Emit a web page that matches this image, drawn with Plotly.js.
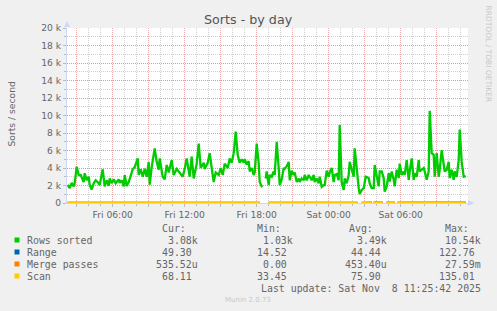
<!DOCTYPE html>
<html>
<head>
<meta charset="utf-8">
<script src="https://cdn.plot.ly/plotly-3.0.1.min.js"></script>
<style>
html,body{margin:0;padding:0;background:#F0F0F0;}
#chart{width:497px;height:311px;}
</style>
</head>
<body>
<div id="chart"></div>
<script>
// ---- Data ----
const rowsTimes = [
'2025-11-07 02:15','2025-11-07 02:25','2025-11-07 02:35','2025-11-07 02:45','2025-11-07 02:50','2025-11-07 03:00','2025-11-07 03:10','2025-11-07 03:20','2025-11-07 03:35','2025-11-07 03:40',
'2025-11-07 03:50','2025-11-07 04:00','2025-11-07 04:05','2025-11-07 04:15','2025-11-07 04:25','2025-11-07 04:35','2025-11-07 04:50','2025-11-07 04:55','2025-11-07 05:10','2025-11-07 05:20',
'2025-11-07 05:30','2025-11-07 05:40','2025-11-07 05:45','2025-11-07 05:55','2025-11-07 06:05','2025-11-07 06:15','2025-11-07 06:30','2025-11-07 06:35','2025-11-07 06:45','2025-11-07 06:55',
'2025-11-07 07:00','2025-11-07 07:10','2025-11-07 07:20','2025-11-07 07:30','2025-11-07 07:40','2025-11-07 07:50','2025-11-07 08:05','2025-11-07 08:10','2025-11-07 08:20','2025-11-07 08:30',
'2025-11-07 08:40','2025-11-07 08:50','2025-11-07 09:00','2025-11-07 09:05','2025-11-07 09:15','2025-11-07 09:30','2025-11-07 09:40','2025-11-07 09:50','2025-11-07 09:55','2025-11-07 10:10',
'2025-11-07 10:20','2025-11-07 10:30','2025-11-07 10:40','2025-11-07 10:55','2025-11-07 11:05','2025-11-07 11:20','2025-11-07 11:35','2025-11-07 11:50','2025-11-07 12:00','2025-11-07 12:10',
'2025-11-07 12:25','2025-11-07 12:35','2025-11-07 12:45','2025-11-07 13:00','2025-11-07 13:10','2025-11-07 13:20','2025-11-07 13:35','2025-11-07 13:40','2025-11-07 13:55','2025-11-07 14:05',
'2025-11-07 14:15','2025-11-07 14:25','2025-11-07 14:35','2025-11-07 14:50','2025-11-07 15:00','2025-11-07 15:10','2025-11-07 15:20','2025-11-07 15:35','2025-11-07 15:45','2025-11-07 15:55',
'2025-11-07 16:05','2025-11-07 16:10','2025-11-07 16:15','2025-11-07 16:25','2025-11-07 16:35','2025-11-07 16:45','2025-11-07 16:55','2025-11-07 17:00','2025-11-07 17:10','2025-11-07 17:20',
'2025-11-07 17:25','2025-11-07 17:35','2025-11-07 17:45','2025-11-07 17:50','2025-11-07 18:00','2025-11-07 18:10','2025-11-07 18:15','2025-11-07 18:25','2025-11-07 18:30','2025-11-07 18:35',
'2025-11-07 18:45','2025-11-07 18:50','2025-11-07 19:00','2025-11-07 19:05','2025-11-07 19:15','2025-11-07 19:25','2025-11-07 19:30','2025-11-07 19:40','2025-11-07 19:50','2025-11-07 19:55',
'2025-11-07 20:05','2025-11-07 20:15','2025-11-07 20:20','2025-11-07 20:30','2025-11-07 20:40','2025-11-07 20:45','2025-11-07 20:55','2025-11-07 21:05','2025-11-07 21:10','2025-11-07 21:20',
'2025-11-07 21:30','2025-11-07 21:35','2025-11-07 21:45','2025-11-07 21:55','2025-11-07 22:00','2025-11-07 22:10','2025-11-07 22:20','2025-11-07 22:25','2025-11-07 22:35','2025-11-07 22:45',
'2025-11-07 22:50','2025-11-07 23:00','2025-11-07 23:10','2025-11-07 23:15','2025-11-07 23:25','2025-11-07 23:35','2025-11-07 23:40','2025-11-07 23:50',
'2025-11-08 00:00','2025-11-08 00:05','2025-11-08 00:15','2025-11-08 00:25','2025-11-08 00:30','2025-11-08 00:40','2025-11-08 00:50','2025-11-08 00:55','2025-11-08 01:05','2025-11-08 01:15',
'2025-11-08 01:20','2025-11-08 01:30','2025-11-08 01:40','2025-11-08 01:45','2025-11-08 01:55','2025-11-08 02:05','2025-11-08 02:10','2025-11-08 02:20','2025-11-08 02:30','2025-11-08 02:35',
'2025-11-08 02:45','2025-11-08 02:55','2025-11-08 03:05','2025-11-08 03:20','2025-11-08 03:25','2025-11-08 03:35','2025-11-08 03:45','2025-11-08 03:50','2025-11-08 04:00','2025-11-08 04:10',
'2025-11-08 04:15','2025-11-08 04:25','2025-11-08 04:35','2025-11-08 04:40','2025-11-08 04:50','2025-11-08 05:00','2025-11-08 05:05','2025-11-08 05:15','2025-11-08 05:25','2025-11-08 05:30',
'2025-11-08 05:40','2025-11-08 05:50','2025-11-08 05:55','2025-11-08 06:05','2025-11-08 06:15','2025-11-08 06:20','2025-11-08 06:30','2025-11-08 06:40','2025-11-08 06:45','2025-11-08 06:55',
'2025-11-08 07:05','2025-11-08 07:10','2025-11-08 07:20','2025-11-08 07:30','2025-11-08 07:35','2025-11-08 07:45','2025-11-08 07:55','2025-11-08 08:00','2025-11-08 08:10','2025-11-08 08:20',
'2025-11-08 08:25','2025-11-08 08:35','2025-11-08 08:45','2025-11-08 08:50','2025-11-08 09:00','2025-11-08 09:10','2025-11-08 09:15','2025-11-08 09:25','2025-11-08 09:35','2025-11-08 09:40',
'2025-11-08 09:50','2025-11-08 10:00','2025-11-08 10:05','2025-11-08 10:15','2025-11-08 10:25','2025-11-08 10:30','2025-11-08 10:40','2025-11-08 10:50','2025-11-08 10:55','2025-11-08 11:05',
'2025-11-08 11:15','2025-11-08 11:20','2025-11-08 11:25'
];
const rowsSorted = [
2060,1700,2300,1900,2250,4150,3200,3200,2400,3400,
2600,3000,2050,1550,2250,2600,2250,2050,3850,1900,
2600,1950,2800,2250,2700,2250,2700,2300,2600,1900,
3200,1950,2400,3200,3850,4100,5100,3200,3850,3000,
3900,3000,4700,2100,4100,6250,4700,3800,5100,3000,
2700,4350,3500,4900,3200,3900,3500,3000,3900,5100,
3000,5300,2800,4500,6800,4000,4600,3900,4600,5700,
4000,2400,3500,3200,4000,3200,4500,4000,5100,4600,
5700,6600,8150,5500,4600,5000,4600,5000,4400,4800,
3600,4000,3200,3500,6800,4500,2400,1900,1850,null,
2800,3600,2050,3200,3000,3600,3200,7000,4000,2050,
2700,4000,3900,4200,4700,2600,3700,3200,3500,2400,
2800,2400,2800,2600,3200,2600,3200,3000,2600,3200,
2400,2800,2250,3000,1850,2050,2050,3700,
3000,3500,4000,2400,3200,3300,2600,8900,2400,1500,
2800,2250,3200,4700,3700,3000,6250,3500,1700,1030,
1500,1700,3000,2850,2250,1700,1700,4350,3000,1900,
3600,3600,2850,1300,1900,3400,2450,3600,2650,1900,
3800,2850,4500,3200,3600,3200,4900,2650,3600,5100,
2650,3400,3000,4900,3600,3800,4000,3600,2650,3600,
10540,5700,5500,3000,5700,3000,3800,6050,4500,3600,
3800,4700,2850,3800,2650,3600,3000,4900,8400,4700,
3000,3080,3080
];
const auxTimes = ['2025-11-07 02:15','2025-11-07 05:00','2025-11-07 08:00','2025-11-07 11:00','2025-11-07 14:00','2025-11-07 17:00','2025-11-07 18:15','2025-11-07 18:30','2025-11-07 19:00','2025-11-07 21:00',
'2025-11-08 00:00','2025-11-08 02:25','2025-11-08 02:35','2025-11-08 02:45','2025-11-08 03:35','2025-11-08 03:40','2025-11-08 03:45','2025-11-08 04:30','2025-11-08 04:40','2025-11-08 04:50',
'2025-11-08 05:30','2025-11-08 05:35','2025-11-08 05:45','2025-11-08 08:00','2025-11-08 10:00','2025-11-08 11:25'];
const rangeVals = [40,35,45,50,55,48,42,null,30,38,35,40,null,42,45,null,44,50,null,48,46,null,47,52,50,49.3];
const mergeVals = [0,0,0,0,0,0,0,null,0,0,0,0,null,0,0,null,0,0,null,0,0,null,0,0,0,0.00053552];
const scanVals  = [72,80,76,85,90,82,70,null,65,60,58,62,null,60,64,null,66,70,null,72,75,null,76,90,80,68.11];

const seriesNames  = ['Rows sorted','Range','Merge passes','Scan'];
const seriesColors = ['#00CC00','#0066B3','#FF8000','#FFCC00'];
const curVals = ['3.08k','49.30','535.52u','68.11'];
const minVals = ['1.03k','14.52','0.00','33.45'];
const avgVals = ['3.49k','44.44','453.40u','75.90'];
const maxVals = ['10.54k','122.76','27.59m','135.01'];
const colHeaders = ['Cur:','Min:','Avg:','Max:'];

const yTickVals = [0,2000,4000,6000,8000,10000,12000,14000,16000,18000,20000];
const yTickText = ['0','2 k','4 k','6 k','8 k','10 k','12 k','14 k','16 k','18 k','20 k'];

// ---- Layout helpers ----
const W = 497, H = 311, ML = 67, MR = 29, MT = 28, MB = 108;
const PW = W - ML - MR, PH = H - MT - MB;
const px = x => (x - ML) / PW;
const py = y => (H - MB - y) / PH;
const FONT = 'DejaVu Sans, sans-serif';
const MONO = 'DejaVu Sans Mono, monospace';
const TXT = '#666666';

const traces = [
  {x: auxTimes, y: rangeVals, name: seriesNames[1], type: 'scatter', mode: 'lines', line: {color: seriesColors[1], width: 2}},
  {x: auxTimes, y: mergeVals, name: seriesNames[2], type: 'scatter', mode: 'lines', line: {color: seriesColors[2], width: 2}},
  {x: auxTimes, y: scanVals, name: seriesNames[3], type: 'scatter', mode: 'lines', line: {color: seriesColors[3], width: 2}},
  {x: rowsTimes, y: rowsSorted, name: seriesNames[0], type: 'scatter', mode: 'lines', line: {color: seriesColors[0], width: 2.3}}
];

const annotations = [];
const shapes = [];
function ann(text, x, y, xa, ya, opts) {
  annotations.push(Object.assign({text: text, xref: 'paper', yref: 'paper', x: px(x), y: py(y),
    xanchor: xa, yanchor: ya, showarrow: false, borderpad: 0,
    font: {family: FONT, size: 9.2, color: TXT}}, opts || {}));
}
// title
ann('Sorts - by day', 248.3, 19.5, 'center', 'middle', {font: {family: FONT, size: 12.7, color: '#555555'}});
// y axis title
ann('Sorts / second', 10.5, 114, 'center', 'middle', {textangle: -90});
// vertical credit
ann('RRDTOOL / TOBI OETIKER', 488, 53.5, 'center', 'middle', {textangle: 90, font: {family: FONT, size: 7.5, color: '#C8C8C8'}});
// munin version
ann('Munin 2.0.73', 248.3, 300, 'center', 'middle', {font: {family: FONT, size: 7, color: '#C8C8C8'}});

// legend table
const mono = {family: MONO, size: 9.9, color: TXT};
const rowY0 = 240, rowStep = 12, headerY = 228;
const colRight = [199, 294.3, 388.3, 482.3];
const headRight = [187, 281.7, 374, 470];
const cols = [curVals, minVals, avgVals, maxVals];
colHeaders.forEach((h, i) => ann(h, headRight[i], headerY, 'right', 'middle', {font: mono}));
seriesNames.forEach((n, r) => {
  const y = rowY0 + r * rowStep;
  shapes.push({type: 'rect', xref: 'paper', yref: 'paper', x0: px(14.5), x1: px(19.5), y0: py(y - 2.5), y1: py(y + 2.5),
    fillcolor: seriesColors[r], line: {width: 0}});
  ann(n, 26, y, 'left', 'middle', {font: mono});
  cols.forEach((c, k) => {
    const v = c[r];
    const t = /[a-zA-Z]$/.test(v) ? v : v + '\u00A0';
    ann(t, colRight[k], y, 'right', 'middle', {font: mono});
  });
});
ann('Last update: Sat Nov\u00A0\u00A08 11:25:42 2025', 482.3, 288, 'right', 'middle', {font: mono});

// axis arrows
const AX = '#CFD6F8';
shapes.push({type: 'path', xref: 'paper', yref: 'paper',
  path: `M ${px(64)},${py(27)} L ${px(70)},${py(27)} L ${px(67)},${py(21)} Z`, fillcolor: AX, line: {width: 0}});
shapes.push({type: 'path', xref: 'paper', yref: 'paper',
  path: `M ${px(468)},${py(200)} L ${px(468)},${py(206)} L ${px(474)},${py(203)} Z`, fillcolor: AX, line: {width: 0}});

const MGRID = 'rgba(226,120,120,0.6)';
const GRID = 'rgba(160,160,160,0.5)';

const layout = {
  width: W, height: H,
  paper_bgcolor: '#F0F0F0', plot_bgcolor: '#FFFFFF',
  margin: {l: ML, r: MR, t: MT, b: MB, pad: 0},
  showlegend: false,
  font: {family: FONT, size: 9.2, color: TXT},
  xaxis: {
    type: 'date',
    range: ['2025-11-07 02:11:30', '2025-11-08 11:36:30'],
    tick0: '2025-11-07 00:00', dtick: 3 * 3600000, ticklabelstep: 2,
    tickformat: '%a %H:%M',
    showgrid: true, gridcolor: MGRID, griddash: '1px,1px', gridwidth: 1,
    showline: true, linecolor: AX, linewidth: 1,
    ticks: 'outside', ticklen: 3, tickcolor: '#BBBBBB',
    zeroline: false, automargin: false,
    tickfont: {family: FONT, size: 9.2, color: TXT},
    minor: {dtick: 3600000, tick0: '2025-11-07 00:00', showgrid: true, gridcolor: GRID, griddash: '1px,1px',
            ticks: 'outside', ticklen: 2, tickcolor: '#BBBBBB'}
  },
  yaxis: {
    range: [0, 20000],
    tickmode: 'array', tickvals: yTickVals, ticktext: yTickText,
    showgrid: true, gridcolor: MGRID, griddash: '1px,1px', gridwidth: 1,
    showline: true, linecolor: AX, linewidth: 1,
    ticks: 'outside', ticklen: 3, tickcolor: '#BBBBBB',
    zeroline: false, automargin: false,
    tickfont: {family: FONT, size: 9.2, color: TXT},
    minor: {dtick: 1000, showgrid: true, gridcolor: GRID, griddash: '1px,1px',
            ticks: 'outside', ticklen: 2, tickcolor: '#BBBBBB'}
  },
  annotations: annotations,
  shapes: shapes
};

Plotly.newPlot('chart', traces, layout, {staticPlot: true, displayModeBar: false});
</script>
</body>
</html>
